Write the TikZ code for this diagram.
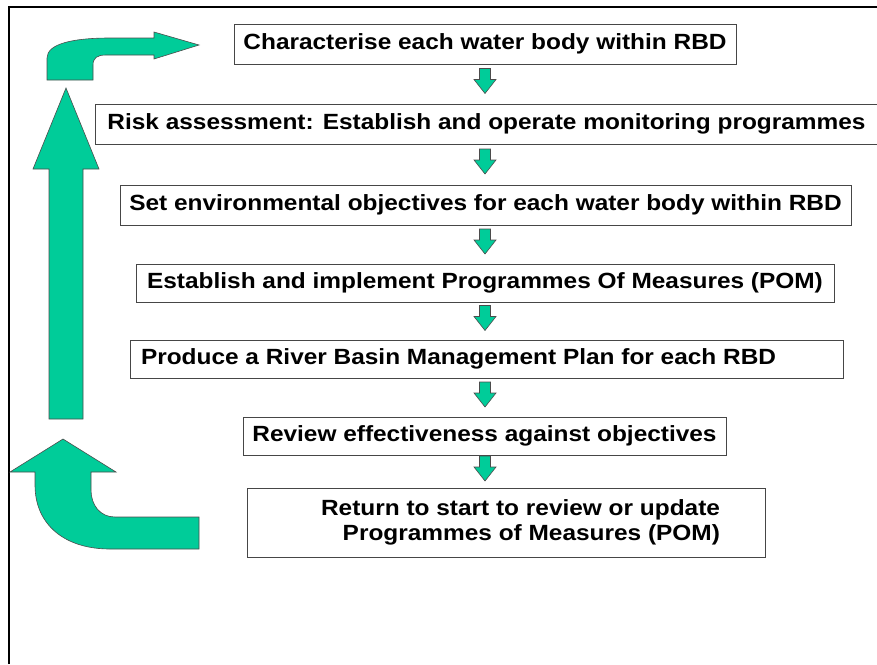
\documentclass[tikz,border=0pt]{standalone}
\usepackage{fontspec}
\setmainfont{Liberation Sans}[FakeStretch=1.11]
\usepackage{tikz}
\usetikzlibrary{calc}

\definecolor{wfdgreen}{RGB}{0,204,153}
\definecolor{boxline}{RGB}{70,70,70}

\begin{document}
\begin{tikzpicture}[
    x=1pt,
    y=-1pt,
    stage/.style={draw=boxline, line width=0.9pt, fill=white, inner sep=0pt, font=\fontsize{22}{25}\selectfont\bfseries},
    blockarrow/.style={fill=wfdgreen, draw=black!70, line width=0.6pt, line join=miter},
    dnarrow/.pic={\draw[blockarrow] (-5.5,-15.5) -- (5.5,-15.5) -- (5.5,-4.5) -- (11,-4.5) -- (0,9.5) -- (-11,-4.5) -- (-5.5,-4.5) -- cycle;}
  ]
    \useasboundingbox (0,0) rectangle (877,664);

    % -- frame --
    \draw[line width=2pt] (9,664) -- (9,7) -- (877,7);

    % -- steps of the cycle --
    \node[stage, minimum width=502, minimum height=40] (b1) at (485,44)    {Characterise each water body within RBD};
    \node[stage, minimum width=783, minimum height=40] (b2) at (486.5,124) {Risk assessment: Establish and operate monitoring programmes};
    \node[stage, minimum width=731, minimum height=40] (b3) at (485.5,205) {Set environmental objectives for each water body within RBD};
    \node[stage, minimum width=698, minimum height=38] (b4) at (485,283)   {Establish and implement Programmes Of Measures (POM)};
    \node[stage, minimum width=713, minimum height=38] (b5) at (486.5,359) {};
    \node[stage, draw=none, fill=none, anchor=west] (t5) at ([xshift=11pt]b5.west) {Produce a River Basin Management Plan for each RBD};
    \node[stage, minimum width=483, minimum height=38] (b6) at (484.5,436) {Review effectiveness against objectives};
    \node[stage, minimum width=518, minimum height=69] (b7) at (506,522.5) {};
    \node[stage, draw=none, fill=none, align=right, anchor=east] (t7) at ([xshift=-45pt]b7.east) {Return to start to review or update\\Programmes of Measures (POM)};

    % -- small arrows between the steps --
    \coordinate (ax) at (485,0);
    \foreach \u/\v in {b1/b2,b2/b3,b3/b4,b4/b5,b5/b6,b6/b7}{
      \path (\u.south) -- coordinate[pos=0.5] (mid) (\v.north);
      \pic at (mid -| ax) {dnarrow};
    }

    % -- return arrow, bottom left --
    \draw[blockarrow] (10,472) -- (63,439) -- (116,472) -- (91,472) -- (91,490)
        .. controls (91,505) and (100,517) .. (115,517) -- (199,517) -- (199,549) -- (110,549)
        .. controls (65,549) and (35,525) .. (35,485) -- (35,472) -- cycle;

    % -- long arrow up --
    \draw[blockarrow] (49,419) -- (49,169) -- (33,169) -- (66,88) -- (99,169) -- (83,169) -- (83,419) -- cycle;

    % -- bent arrow into the first step --
    \draw[blockarrow] (47,80) -- (47,58) .. controls (47,44) and (72,38) .. (110,38) -- (154,38) -- (154,32)
        -- (199,45) -- (154,59) -- (154,55) -- (106,55) .. controls (97,55) and (93,58) .. (93,65) -- (93,80) -- cycle;
\end{tikzpicture}
\end{document}
